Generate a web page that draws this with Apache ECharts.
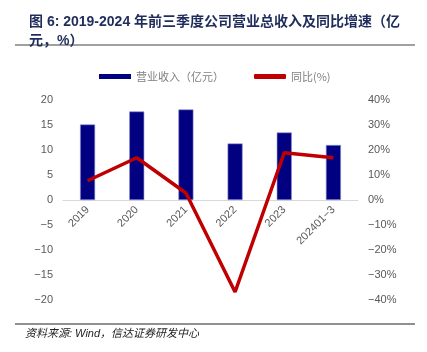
<!DOCTYPE html>
<html>
<head>
<meta charset="utf-8">
<script src="https://cdn.jsdelivr.net/npm/echarts@6/dist/echarts.min.js"></script>
<style>
html, body { margin: 0; padding: 0; background: #fff; }
#chart { width: 427px; height: 352px; }
</style>
</head>
<body>
<div id="chart"></div>
<script>
var myChart = echarts.init(document.getElementById('chart'));

var categories = ['2019', '2020', '2021', '2022', '2023', '202401\u22123'];
var revenue = [15.1, 17.7, 18.1, 11.3, 13.5, 11.0];
var yoy = [7.7, 16.9, 2.8, -36.8, 18.9, 16.9];
var leftTicks = { min: -20, max: 20, interval: 5 };
var rightTicks = { min: -40, max: 40, interval: 10 };

var navy = '#000080';
var red = '#C00000';
var titleColor = '#1F2D5C';
var labelColor = '#595959';
var cjk = '"Noto Sans CJK SC", sans-serif';

// second grid ends at the zero line so the category labels sit under it
var option = {
    backgroundColor: '#fff',
    animation: false,
    title: {
        text: '图 6: 2019-2024 年前三季度公司营业总收入及同比增速（亿\n元，%）',
        left: 24,
        top: 8,
        textStyle: {
            color: titleColor,
            fontSize: 14,
            fontWeight: 'bold',
            fontFamily: 'Arial, ' + cjk,
            lineHeight: 19
        }
    },
    legend: {
        top: 66,
        left: 94,
        itemGap: 30,
        itemWidth: 32,
        itemHeight: 5,
        textStyle: { color: '#7f7f7f', fontSize: 11, fontFamily: cjk },
        data: [
            { name: '营业收入（亿元）', icon: 'rect', itemStyle: { borderWidth: 0 } },
            { name: '同比(%)', icon: 'roundRect', itemStyle: { color: red } }
        ]
    },
    grid: [
        { left: 63, right: 69, top: 100, bottom: 52 },
        { left: 63, right: 69, top: 100, bottom: 152 }
    ],
    xAxis: [{
        type: 'category',
        data: categories,
        gridIndex: 0,
        axisLine: { onZero: true, onZeroAxisIndex: 0, lineStyle: { color: '#d9d9d9' } },
        axisTick: { show: false },
        axisLabel: { show: false }
    }, {
        type: 'category',
        data: categories,
        gridIndex: 1,
        axisLine: { show: false },
        axisTick: { show: false },
        axisLabel: {
            color: labelColor,
            fontSize: 11,
            rotate: 45,
            interval: 0,
            margin: 8,
            fontFamily: 'Arial, sans-serif'
        }
    }],
    yAxis: [{
        type: 'value',
        min: leftTicks.min,
        max: leftTicks.max,
        interval: leftTicks.interval,
        splitLine: { show: false },
        axisLine: { show: false },
        axisLabel: { color: labelColor, fontSize: 11, margin: 10, fontFamily: 'Arial, sans-serif',
            formatter: function (v) { return String(v).replace('-', '\u2212'); } }
    }, {
        type: 'value',
        min: rightTicks.min,
        max: rightTicks.max,
        interval: rightTicks.interval,
        splitLine: { show: false },
        axisLine: { show: false },
        axisLabel: { color: labelColor, fontSize: 11, margin: 10, fontFamily: 'Arial, sans-serif',
            formatter: function (v) { return String(v).replace('-', '\u2212') + '%'; } }
    }, {
        type: 'value',
        gridIndex: 1,
        show: false
    }],
    series: [{
        name: '营业收入（亿元）',
        type: 'bar',
        data: revenue,
        barWidth: 15,
        itemStyle: { color: navy, borderColor: '#8c8cd0', borderWidth: 0.6 }
    }, {
        name: '同比(%)',
        type: 'line',
        yAxisIndex: 1,
        data: yoy,
        symbol: 'none',
        lineStyle: { color: red, width: 3.5 },
        itemStyle: { color: red }
    }],
    graphic: [{
        type: 'line',
        shape: { x1: 15, y1: 45, x2: 415, y2: 45 },
        style: { stroke: '#808080', lineWidth: 1.5 }
    }, {
        type: 'line',
        shape: { x1: 15, y1: 324, x2: 415, y2: 324 },
        style: { stroke: '#222', lineWidth: 1 }
    }, {
        type: 'text',
        left: 25,
        top: 328,
        style: {
            text: '资料来源: Wind，信达证券研发中心',
            fill: '#222',
            fontSize: 11,
            fontStyle: 'italic',
            fontFamily: 'Arial, ' + cjk
        }
    }]
};
myChart.setOption(option);
</script>
</body>
</html>
